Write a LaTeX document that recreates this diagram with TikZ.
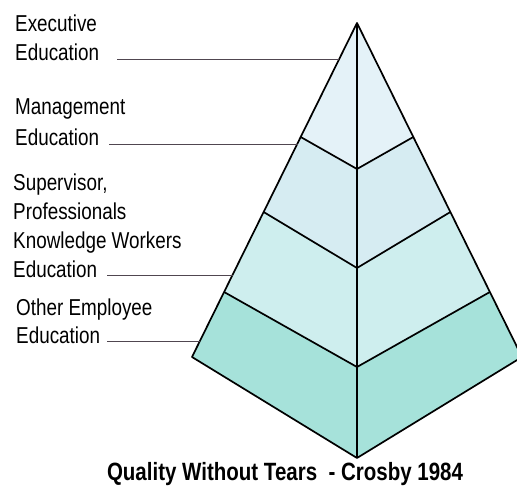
\documentclass[tikz,border=0pt]{standalone}
\usepackage{fontspec}
\newfontfamily\labelfont{Liberation Sans}[FakeStretch=0.82]
\usepackage{tikz}

\definecolor{levelA}{RGB}{228,242,248}
\definecolor{levelB}{RGB}{214,236,242}
\definecolor{levelC}{RGB}{206,238,238}
\definecolor{levelD}{RGB}{166,226,218}
\definecolor{leaderGray}{RGB}{80,70,80}

\begin{document}
\begin{tikzpicture}[x=1pt,y=-1pt,
    label/.style={anchor=base west,inner sep=0pt,font=\labelfont\fontsize{23}{29}\selectfont},
    leader/.style={draw=leaderGray,line width=0.9pt},
    edge/.style={draw=black,line width=1.7pt,line join=round}]
  \useasboundingbox (0,0) rectangle (517,492);

  \coordinate (apex) at (357,23);
  \coordinate (L1) at (300.7,137);
  \coordinate (L2) at (263.6,212);
  \coordinate (L3) at (224.1,292);
  \coordinate (L4) at (192,357);
  \coordinate (R1) at (413.3,137);
  \coordinate (R2) at (450.4,212);
  \coordinate (R3) at (489.9,292);
  \coordinate (R4) at (522,357);
  \coordinate (C1) at (357,169);
  \coordinate (C2) at (357,268);
  \coordinate (C3) at (357,367);
  \coordinate (C4) at (357,458);

  \fill[levelA] (apex) -- (L1) -- (C1) -- (R1) -- cycle;
  \fill[levelB] (L1) -- (L2) -- (C2) -- (R2) -- (R1) -- (C1) -- cycle;
  \fill[levelC] (L2) -- (L3) -- (C3) -- (R3) -- (R2) -- (C2) -- cycle;
  \fill[levelD] (L3) -- (L4) -- (C4) -- (R4) -- (R3) -- (C3) -- cycle;

  \draw[edge] (L4) -- (apex) -- (R4) -- (C4) -- cycle;
  \draw[edge] (apex) -- (C4);
  \draw[edge] (L1) -- (C1) -- (R1);
  \draw[edge] (L2) -- (C2) -- (R2);
  \draw[edge] (L3) -- (C3) -- (R3);

  \node[label] (execTop) at (15,32) {Executive};
  \node[label] (execEdu) at (15,61) {Education};
  \node[label] (mgmtTop) at (15,115) {Management};
  \node[label] (mgmtEdu) at (15,146) {Education};
  \node[label] (supA) at (13,190) {Supervisor,};
  \node[label] (supB) at (13,219) {Professionals};
  \node[label] (supC) at (13,248) {Knowledge Workers};
  \node[label] (supEdu) at (13,277) {Education};
  \node[label] (otherTop) at (16,315) {Other Employee};
  \node[label] (otherEdu) at (16,343) {Education};

  \coordinate (execTip) at (339.2,59);
  \coordinate (mgmtTip) at (298.2,144);
  \coordinate (supTip) at (232.5,275);
  \coordinate (otherTip) at (200.4,341);

  \draw[leader] ([shift={(18,-2)}]execEdu.base east) -- (execTip);
  \draw[leader] ([shift={(10,-2)}]mgmtEdu.base east) -- (mgmtTip);
  \draw[leader] ([shift={(10,-2)}]supEdu.base east) -- (supTip);
  \draw[leader] ([shift={(7,-2)}]otherEdu.base east) -- (otherTip);

  \node[anchor=base,inner sep=0pt,font=\labelfont\bfseries\fontsize{25}{29}\selectfont]
    (title) at (285,480) {Quality Without Tears \ - Crosby 1984};
\end{tikzpicture}
\end{document}
